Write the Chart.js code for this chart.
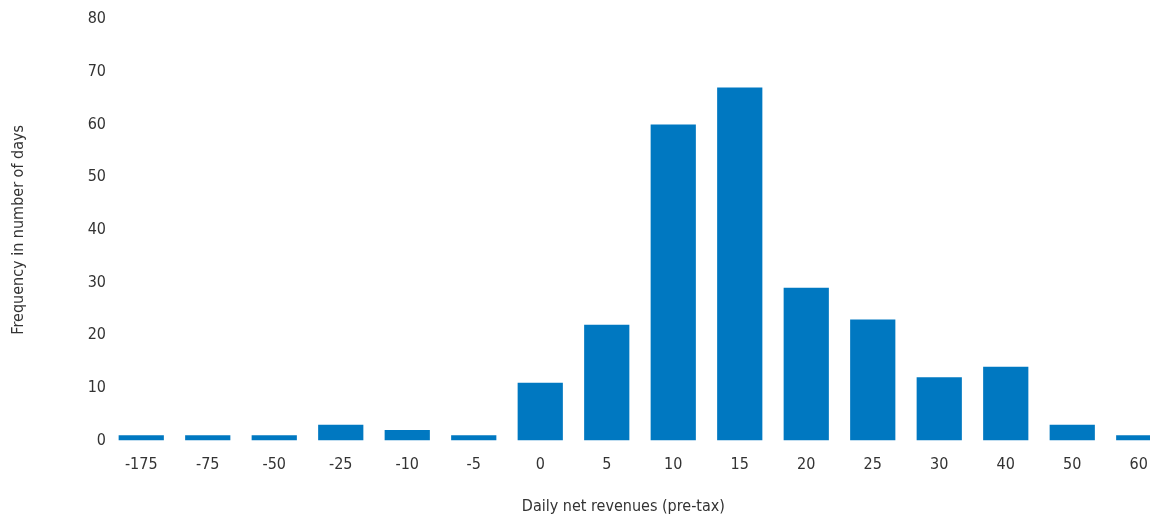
<!DOCTYPE html>
<html>
<head>
<meta charset="utf-8">
<script src="https://cdn.jsdelivr.net/npm/chart.js@4"></script>
<style>
    html, body { margin: 0; padding: 0; background: #fff; overflow: hidden; }
    .chart-box { width: 1172px; height: 519px; }
</style>
</head>
<body>
<div class="chart-box"><canvas id="chartRevenue"></canvas></div>
<script>
/* =========================================================
   DATA
========================================================= */
const revenueBins = ["-175", "-75", "-50", "-25", "-10", "-5", "0", "5", "10", "15", "20", "25", "30", "40", "50", "60"];
const dayCounts = [1, 1, 1, 3, 2, 1, 11, 22, 60, 67, 29, 23, 12, 14, 3, 1];
const yTicks = [0, 10, 20, 30, 40, 50, 60, 70, 80];
const xTitle = "Daily net revenues (pre-tax)";

const fontFamily = "'Liberation Sans Narrow', 'DejaVu Sans Condensed', 'Roboto', sans-serif";
const textColor = "#333333";

/* =========================================================
   X TITLE — centred between the plot's left edge and last bin
========================================================= */
const xTitlePlugin = {
    id: "xTitlePlugin",
    afterDraw(chart) {
        const x = chart.scales.x;
        const ctx = chart.ctx;
        const left = chart.chartArea.left;
        const lastPx = x.getPixelForValue(revenueBins.length - 1);
        ctx.save();
        ctx.font = "16px " + fontFamily;
        ctx.fillStyle = textColor;
        ctx.textAlign = "center";
        ctx.textBaseline = "middle";
        ctx.fillText(xTitle, (left + lastPx) / 2, x.bottom - 9);
        ctx.restore();
    }
};

/* =========================================================
   CHART
========================================================= */
const canvas = document.getElementById("chartRevenue");

new Chart(canvas, {
    type: "bar",
    data: {
        labels: revenueBins,
        datasets: [{
            label: "Frequency",
            data: dayCounts,
            backgroundColor: "#0078c1",
            categoryPercentage: 1,
            barPercentage: 0.68
        }]
    },
    options: {
        responsive: true,
        maintainAspectRatio: false,
        animation: false,
        layout: { padding: { top: 19, bottom: 3, left: 2, right: 0 } },
        plugins: {
            legend: { display: false },
            tooltip: { enabled: false }
        },
        scales: {
            x: {
                grid: { display: false, drawTicks: false },
                border: { display: false },
                ticks: {
                    color: textColor,
                    font: { family: fontFamily, size: 16 },
                    padding: 15,
                    maxRotation: 0
                },
                title: {
                    display: true,
                    text: xTitle,
                    color: "rgba(0,0,0,0)",
                    font: { family: fontFamily, size: 16 },
                    padding: { top: 7, bottom: 0 }
                }
            },
            y: {
                min: 0,
                max: 80,
                afterBuildTicks: axis => {
                    axis.ticks = yTicks.map(v => ({ value: v }));
                },
                afterFit: axis => { axis.width = 106; },
                grid: { display: false, drawTicks: false },
                border: { display: false },
                ticks: {
                    color: textColor,
                    font: { family: fontFamily, size: 16 },
                    padding: 2
                },
                title: {
                    display: true,
                    text: "Frequency in number of days",
                    color: textColor,
                    font: { family: fontFamily, size: 16 },
                    padding: { top: 7, bottom: 0 }
                }
            }
        }
    },
    plugins: [xTitlePlugin]
});
</script>
</body>
</html>
